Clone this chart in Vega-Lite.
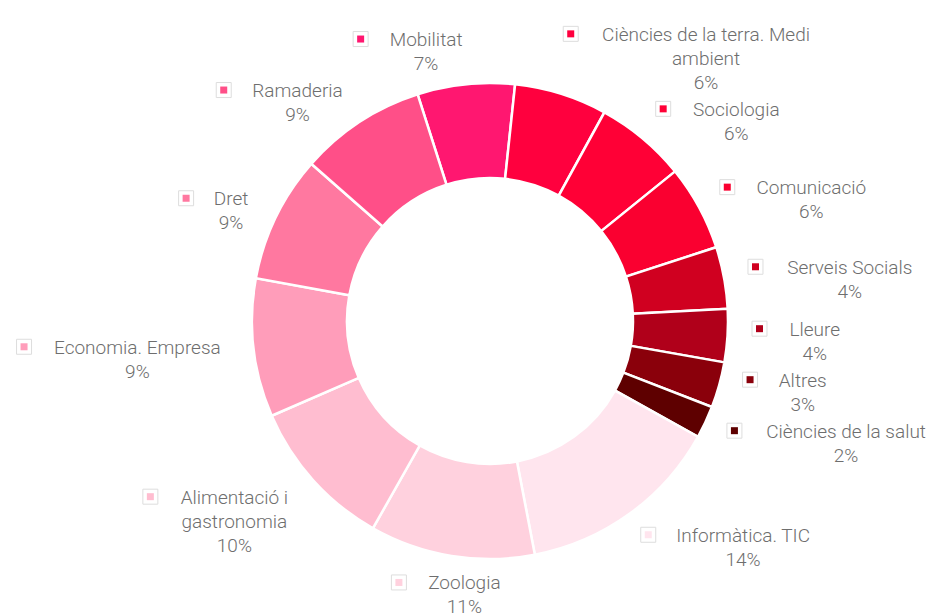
{
  "$schema": "https://vega.github.io/schema/vega-lite/v6.json",
  "width": 872,
  "height": 588,
  "autosize": {"type": "none"},
  "padding": {"left": 54, "top": 27, "right": 0, "bottom": 0},
  "background": "white",
  "config": {"view": {"stroke": null}},
  "data": {
    "values": [
      {"ord": 0, "name": "Mobilitat", "value": 6.6},
      {"ord": 1, "name": "Ciències de la terra. Medi|ambient", "value": 6.3},
      {"ord": 2, "name": "Sociologia", "value": 6.2},
      {"ord": 3, "name": "Comunicació", "value": 5.8},
      {"ord": 4, "name": "Serveis Socials", "value": 4.2},
      {"ord": 5, "name": "Lleure", "value": 3.6},
      {"ord": 6, "name": "Altres", "value": 3.1},
      {"ord": 7, "name": "Ciències de la salut", "value": 2.2},
      {"ord": 8, "name": "Informàtica. TIC", "value": 13.9},
      {"ord": 9, "name": "Zoologia", "value": 11.2},
      {"ord": 10, "name": "Alimentació i|gastronomia", "value": 10.3},
      {"ord": 11, "name": "Economia. Empresa", "value": 9.4},
      {"ord": 12, "name": "Dret", "value": 8.6},
      {"ord": 13, "name": "Ramaderia", "value": 8.6}
    ]
  },
  "transform": [
    {"joinaggregate": [{"op": "sum", "field": "value", "as": "total"}]},
    {"window": [{"op": "sum", "field": "value", "as": "cum"}], "sort": [{"field": "ord"}], "frame": [null, 0]},
    {"calculate": "-0.309 + 2*PI*(datum.cum - datum.value/2)/datum.total", "as": "a"},
    {"calculate": "sin(datum.a)", "as": "s"},
    {"calculate": "cos(datum.a)", "as": "c"},
    {"calculate": "270*datum.s", "as": "ax"},
    {"calculate": "-270*datum.c - 5", "as": "y0"},
    {"calculate": "datum.s >= 0 ? 'R' : 'L'", "as": "half"},
    {"calculate": "datum.s >= 0 ? datum.a : -((datum.a + 2*PI) % (2*PI))", "as": "k"},
    {"calculate": "length(split(datum.name, '|')) + 1", "as": "nl"},
    {"calculate": "datum.nl*24 + 3", "as": "h"},
    {"window": [{"op": "lead", "field": "y0", "as": "n0"}], "groupby": ["half"], "sort": [{"field": "k"}]},
    {"calculate": "isValid(datum.n0) ? min(datum.y0, datum.n0 - datum.h) : datum.y0", "as": "y1"},
    {"window": [{"op": "lead", "field": "y1", "as": "n1"}], "groupby": ["half"], "sort": [{"field": "k"}]},
    {"calculate": "isValid(datum.n1) ? min(datum.y0, datum.n1 - datum.h) : datum.y0", "as": "y2"},
    {"window": [{"op": "lead", "field": "y2", "as": "n2"}], "groupby": ["half"], "sort": [{"field": "k"}]},
    {"calculate": "isValid(datum.n2) ? min(datum.y0, datum.n2 - datum.h) : datum.y0", "as": "ly"},
    {"calculate": "split(datum.name, '|')[0]", "as": "l1"},
    {"calculate": "indexof(datum.name, '|') >= 0 ? split(datum.name, '|')[1] : ''", "as": "l2"},
    {"calculate": "19*(0.27*length(replace(datum.l1, regexp('[^ilIjt., rf]', 'g'), '')) + 0.87*length(replace(datum.l1, regexp('[^mMwW]', 'g'), '')) + 0.6*length(replace(datum.l1, regexp('[^A-HJ-LN-VX-Z]', 'g'), '')) + 0.54*length(replace(datum.l1, regexp('[ilIjt., rfmMwWA-Z]', 'g'), '')))", "as": "w1"},
    {"calculate": "19*(0.27*length(replace(datum.l2, regexp('[^ilIjt., rf]', 'g'), '')) + 0.87*length(replace(datum.l2, regexp('[^mMwW]', 'g'), '')) + 0.6*length(replace(datum.l2, regexp('[^A-HJ-LN-VX-Z]', 'g'), '')) + 0.54*length(replace(datum.l2, regexp('[ilIjt., rfmMwWA-Z]', 'g'), '')))", "as": "w2"},
    {"calculate": "max(datum.w1, datum.w2)", "as": "w"},
    {"calculate": "abs(datum.s) < 0.2 && datum.c < 0 ? 'C' : datum.half", "as": "cls"},
    {"calculate": "datum.cls == 'R' ? datum.ax : (datum.cls == 'L' ? datum.ax - 29 - datum.w : datum.ax - (36 + datum.w)/2 + 7)", "as": "mx"},
    {"calculate": "datum.mx + 29 + datum.w/2", "as": "tx"},
    {"calculate": "datum.name + '|' + format(datum.value, '.0f') + '%'", "as": "label"}
  ],
  "layer": [
    {
      "mark": {"type": "arc", "innerRadius": 143, "outerRadius": 238, "stroke": "white", "strokeWidth": 2.5},
      "encoding": {
        "theta": {"field": "value", "type": "quantitative", "stack": true, "scale": {"range": [-0.309, 5.9742]}},
        "order": {"field": "ord", "type": "quantitative"},
        "color": {
          "field": "name", "type": "nominal", "legend": null,
          "scale": {
            "domain": ["Mobilitat", "Ciències de la terra. Medi|ambient", "Sociologia", "Comunicació", "Serveis Socials", "Lleure", "Altres", "Ciències de la salut", "Informàtica. TIC", "Zoologia", "Alimentació i|gastronomia", "Economia. Empresa", "Dret", "Ramaderia"],
            "range": ["#FF1770", "#FF003E", "#FF0036", "#FA0030", "#D00020", "#B0001A", "#8A000B", "#5E0000", "#FFE5EE", "#FFD1DE", "#FFBDD0", "#FF9DBA", "#FF78A0", "#FF4F88"]
          }
        }
      }
    },
    {
      "mark": {"type": "point", "shape": "square", "filled": true, "fill": "white", "stroke": "#dddddd", "strokeWidth": 1, "size": 225, "opacity": 1},
      "encoding": {
        "x": {"field": "mx", "type": "quantitative", "axis": null, "scale": {"domain": [-436, 436], "nice": false, "zero": false}},
        "y": {"field": "ly", "type": "quantitative", "axis": null, "scale": {"domain": [-294, 294], "nice": false, "zero": false, "reverse": true}}
      }
    },
    {
      "mark": {"type": "point", "shape": "square", "filled": true, "size": 49, "opacity": 1},
      "encoding": {
        "x": {"field": "mx", "type": "quantitative"},
        "y": {"field": "ly", "type": "quantitative"},
        "color": {"field": "name", "type": "nominal", "legend": null}
      }
    },
    {
      "mark": {"type": "text", "align": "center", "baseline": "alphabetic", "dy": 7, "lineBreak": "|", "lineHeight": 24, "font": "Roboto", "fontSize": 19, "fontWeight": 300, "color": "#6e6e6e"},
      "encoding": {
        "x": {"field": "tx", "type": "quantitative"},
        "y": {"field": "ly", "type": "quantitative"},
        "text": {"field": "label", "type": "nominal"}
      }
    }
  ]
}
